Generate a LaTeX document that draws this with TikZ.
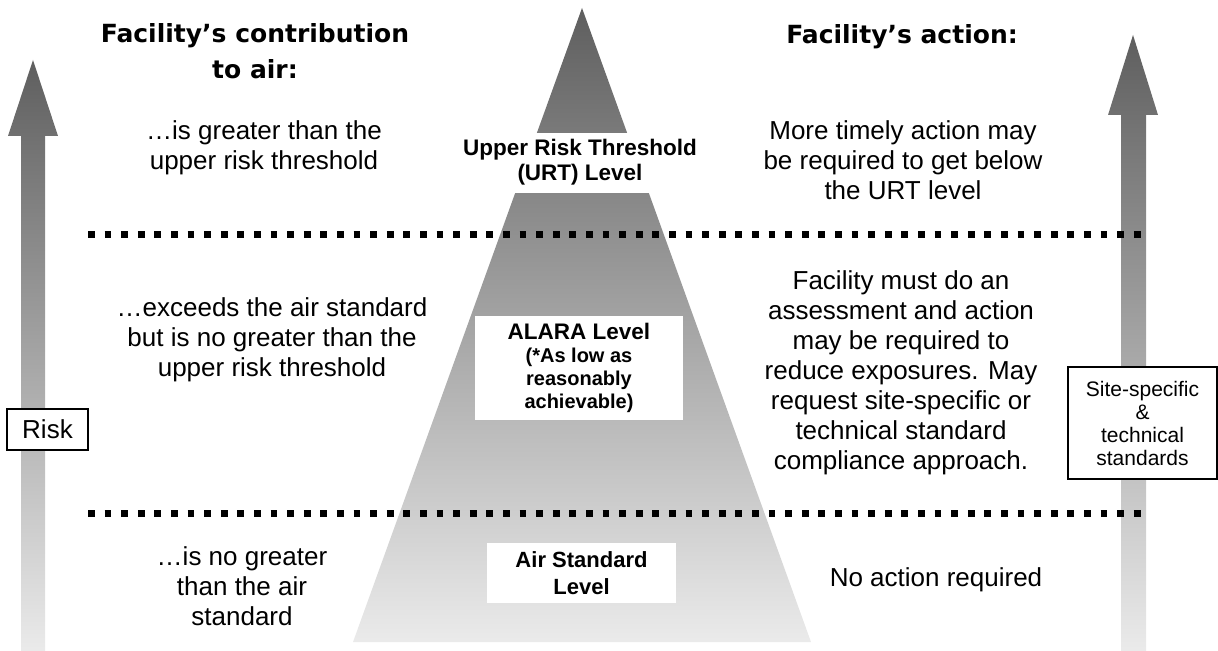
\documentclass[tikz,border=0pt]{standalone}
\usepackage{fontspec}
\setmainfont{Liberation Sans}
\newfontfamily\headfont{DejaVu Sans}
\definecolor{riskdark}{gray}{0.37}
\definecolor{risklight}{gray}{0.92}
\tikzset{
	bodytext/.style={align=center, inner sep=0pt, font=\fontsize{13}{15}\selectfont},
	headtext/.style={align=center, inner sep=0pt, font=\headfont\bfseries\fontsize{12.5}{18}\selectfont},
	leveltext/.style={align=center, inner sep=0pt, font=\bfseries\fontsize{11.25}{12.5}\selectfont},
	whitebox/.style={fill=white, inner sep=0pt, align=center},
	framebox/.style={draw=black, line width=0.8pt, fill=white, inner sep=0pt, align=center},
	levelline/.style={line width=3.5pt, dash pattern=on 3.4pt off 4.9pt, color=black},
	riskshade/.style={top color=riskdark, bottom color=risklight},
}

\begin{document}
\begin{tikzpicture}[x=0.5pt, y=-0.5pt]
		%%%%% START %%%%%
		\useasboundingbox (0, 0) rectangle (1218, 651);
		
		% risk arrows
		\path[riskshade] (21, 651) -- (21, 136) -- (8, 136) -- (33, 60) -- (58, 136) -- (45, 136) -- (45, 651) -- cycle;
		\path[riskshade] (1121, 651) -- (1121, 115) -- (1108, 115) -- (1133, 35) -- (1158, 115) -- (1146, 115) -- (1146, 651) -- cycle;
		
		% pyramid, cut below the tip
		\path[riskshade] (582, 8) -- (811, 642) -- (353, 642) -- cycle;
		\fill[white] (500, 133) rectangle (665, 193);
		
		\draw[levelline] (88, 235) -- (1150, 235);
		\draw[levelline] (88, 513) -- (1150, 513);
		
		\node[headtext] (titleL) at (255, 51) {Facility’s contribution\\to air:};
		\node[headtext] (titleR) at (902, 37) {Facility’s action:};
		
		\node[bodytext] (contribURT) at (264, 148) {…is greater than the\\upper risk threshold};
		\node[bodytext] (contribALARA) at (272, 340) {…exceeds the air standard\\but is no greater than the\\upper risk threshold};
		\node[bodytext] (contribStd) at (242, 586) {…is no greater\\than the air\\standard};
		
		\node[bodytext] (actionURT) at (903, 160) {More timely action may\\be required to get below\\the URT level};
		\node[bodytext] (actionALARA) at (901, 373) {Facility must do an\\assessment and action\\may be required to\\reduce exposures. May\\request site-specific or\\technical standard\\compliance approach.};
		\node[bodytext] (actionStd) at (936, 580) {No action required};
		
		\node[leveltext] (urtLevel) at (580, 162) {Upper Risk Threshold\\(URT) Level};
		\node[whitebox, minimum width=104pt, minimum height=51.5pt, font=\bfseries\fontsize{10}{11.5}\selectfont] (alaraLevel) at (579, 368) {{\fontsize{11.25}{11.5}\selectfont ALARA Level}\\(*As low as\\reasonably\\achievable)};
		\node[whitebox, minimum width=94.5pt, minimum height=30pt, font=\bfseries\fontsize{11}{13.5}\selectfont] (stdLevel) at (581.5, 573) {Air Standard\\Level};
		
		\node[framebox, minimum width=40.5pt, minimum height=20.5pt, font=\fontsize{13}{15}\selectfont] (riskBox) at (47.5, 429.5) {Risk};
		\node[framebox, minimum width=74.5pt, minimum height=56pt, font=\fontsize{10.5}{11.5}\selectfont] (siteBox) at (1142.5, 423) {Site-specific\\\&\\technical\\standards};
		
		%%%%% END %%%%%
	\end{tikzpicture}
\end{document}
